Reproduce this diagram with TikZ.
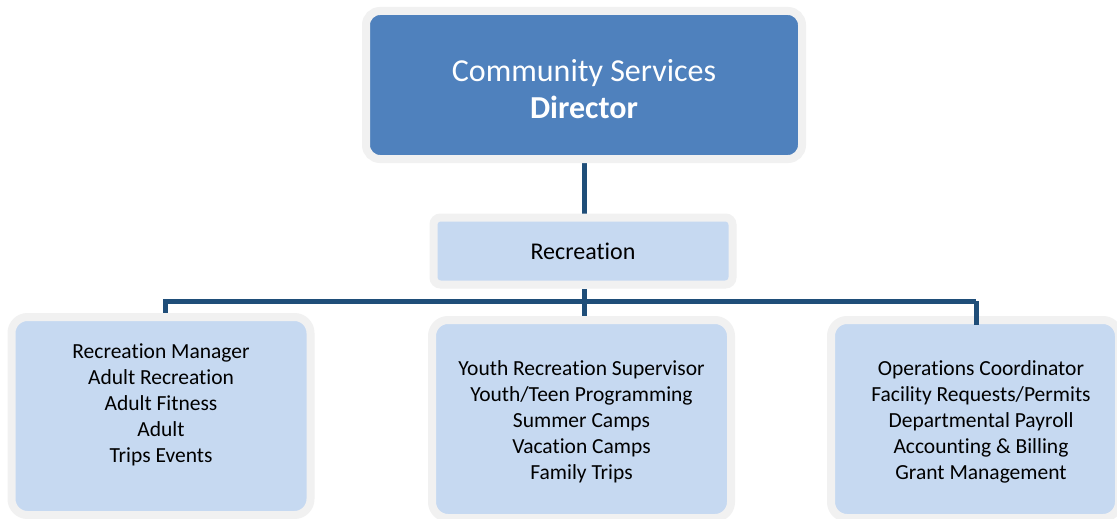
\documentclass[tikz,border=0pt]{standalone}
\usepackage{fontspec}
\setmainfont{Carlito}[Ligatures=NoCommon]
\usetikzlibrary{backgrounds}
\definecolor{dirblue}{RGB}{79,129,189}
\definecolor{lightblue}{RGB}{198,217,241}
\definecolor{rim}{RGB}{241,241,241}
\definecolor{linkblue}{RGB}{31,78,121}
\begin{document}
\begin{tikzpicture}[x=1pt,y=-1pt,
  framebox/.style={draw=rim,line width=8pt,inner sep=0pt,fill=lightblue},
  unitbox/.style={framebox,rounded corners=16pt,minimum width=299pt,minimum height=198pt},
  listtext/.style={align=center,inner sep=0pt,font=\fontsize{21.5}{26}\selectfont,text=black},
  link/.style={draw=linkblue,line width=5pt,line join=miter}]
\useasboundingbox (0,0) rectangle (1117,519);
% boxes
\node[framebox,fill=dirblue,rounded corners=14pt,minimum width=436pt,minimum height=148pt] (dir) at (584,85) {};
\node[text=white,align=center,inner sep=0pt,font=\fontsize{32}{37}\selectfont] (dirtext) at (584,89)
      {Community Services\\\textbf{Director}};
\node[framebox,rounded corners=7pt,minimum width=299pt,minimum height=67pt,
      font=\fontsize{24}{28}\selectfont] (rec) at (583,251) {Recreation};
\node[unitbox] (left) at (161,416) {};
\node[unitbox] (mid) at (581.5,419) {};
\node[unitbox,minimum width=288pt] (right) at (975,419) {};
% texts
\node[listtext] (lt) at (161,405) {Recreation Manager\\Adult Recreation\\Adult Fitness\\Adult\\Trips Events};
\node[listtext] (mt) at (581.5,422) {Youth Recreation Supervisor\\Youth/Teen Programming\\Summer Camps\\Vacation Camps\\Family Trips};
\node[listtext] (rt) at (981,422) {Operations Coordinator\\Facility Requests/Permits\\Departmental Payroll\\Accounting \& Billing\\Grant Management};
% connectors
\coordinate (busL) at (165,301);
\coordinate (busR) at (976,301);
\coordinate (rdrop) at (976,325);
\begin{pgfonlayer}{background}
\fill[white] (0,0) rectangle (1117,519);
\draw[link] (dir.south) -- (dir.south |- rec.north);
\draw[link] (dir.south |- rec.south) -- (dir.south |- mid.north);
\draw[link] (busL |- left.north) -- (busL) -- (busR);
\end{pgfonlayer}
\draw[link] (busR) -- (rdrop);
\end{tikzpicture}
\end{document}
